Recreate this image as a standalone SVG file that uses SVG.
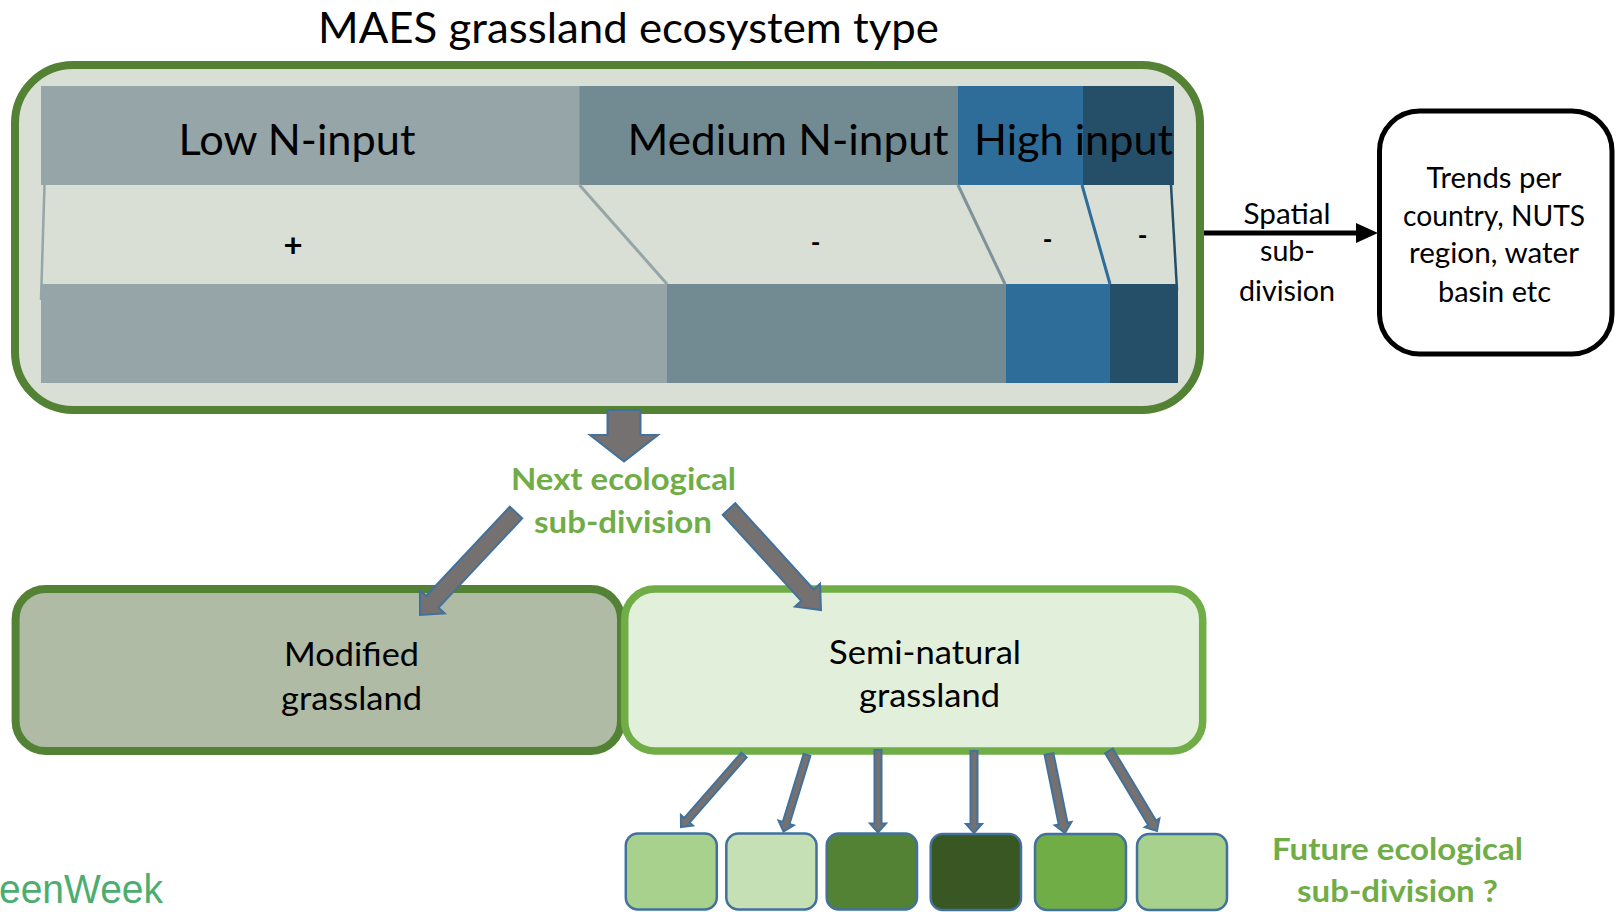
<svg xmlns="http://www.w3.org/2000/svg" width="1623" height="912" viewBox="0 0 1623 912">
<style>
text{font-family:Lato,"Open Sans","Liberation Sans",sans-serif;fill:#000}
.lbl{font-size:43px}
.mid{text-anchor:middle}
.sm{font-size:28px}
.box{font-size:32.5px}
.grn{font-weight:bold;fill:#70AD47;font-size:30px}
.pm{font-size:26px;font-weight:bold}
.ga{fill:#767171;stroke:#41719C;stroke-width:2;stroke-linejoin:miter}
.sq{stroke:#41719C;stroke-width:2.5}
</style>
<rect width="1623" height="912" fill="#FFFFFF"/>
<text id="title" x="318" y="43" font-size="43" textLength="621" lengthAdjust="spacingAndGlyphs">MAES grassland ecosystem type</text>

<g id="maes">
<rect x="15" y="65" width="1185" height="345" rx="58" fill="#D9DFD4" stroke="#548235" stroke-width="8"/>
<rect x="41" y="86" width="539" height="99" fill="#95A5A8"/>
<rect x="579.5" y="86" width="379" height="99" fill="#728A91"/>
<rect x="958" y="86" width="125.5" height="99" fill="#2E6D99"/>
<rect x="1083" y="86" width="91" height="99" fill="#254E69"/>
<line x1="44.5" y1="185" x2="41" y2="300" stroke="#95A5A8" stroke-width="2.5"/>
<line x1="579.5" y1="185" x2="667" y2="284" stroke="#95A5A8" stroke-width="3"/>
<line x1="958" y1="185" x2="1005" y2="284" stroke="#7E9399" stroke-width="3"/>
<line x1="1082" y1="185" x2="1110" y2="284" stroke="#2E6D99" stroke-width="3"/>
<line x1="1171" y1="185" x2="1177" y2="290" stroke="#254E69" stroke-width="2.5"/>
<rect x="41" y="284" width="626.5" height="99" fill="#95A5A8"/>
<rect x="667" y="284" width="339.5" height="99" fill="#728A91"/>
<rect x="1006" y="284" width="104.5" height="99" fill="#2E6D99"/>
<rect x="1110" y="284" width="68" height="99" fill="#254E69"/>
<text class="lbl" x="178.5" y="155" textLength="237" lengthAdjust="spacingAndGlyphs">Low N-input</text>
<text class="lbl" x="627.5" y="155" textLength="321" lengthAdjust="spacingAndGlyphs">Medium N-input</text>
<text class="lbl" x="974" y="155" textLength="199" lengthAdjust="spacingAndGlyphs">High input</text>
<text class="mid" x="293" y="257" style="font-size:33px;font-weight:bold">+</text>
<text class="pm mid" x="815.5" y="252">-</text>
<text class="pm mid" x="1047.5" y="249">-</text>
<text class="pm mid" x="1142.5" y="245">-</text>
</g>

<g id="trends">
<rect x="1379.5" y="111" width="232.5" height="243" rx="40" fill="#FFFFFF" stroke="#000" stroke-width="5"/>
<text class="sm mid" x="1494" y="187.5" textLength="135" lengthAdjust="spacingAndGlyphs">Trends per</text>
<text class="sm mid" x="1494" y="226" textLength="182" lengthAdjust="spacingAndGlyphs">country, NUTS</text>
<text class="sm mid" x="1494" y="263" textLength="170" lengthAdjust="spacingAndGlyphs">region, water</text>
<text class="sm mid" x="1494.5" y="301.5" textLength="113" lengthAdjust="spacingAndGlyphs">basin etc</text>
</g>

<g id="spatial-label">
<text class="sm mid" x="1287" y="224" textLength="87" lengthAdjust="spacingAndGlyphs">Spatial</text>
<text class="sm mid" x="1287.5" y="261" textLength="55" lengthAdjust="spacingAndGlyphs">sub-</text>
<text class="sm mid" x="1287" y="301" textLength="96" lengthAdjust="spacingAndGlyphs">division</text>
</g>

<g id="next-label">
<text class="grn mid" x="623.5" y="490" textLength="225" lengthAdjust="spacingAndGlyphs">Next ecological</text>
<text class="grn mid" x="623" y="533" textLength="178" lengthAdjust="spacingAndGlyphs">sub-division</text>
</g>

<g id="modified">
<rect x="15.6" y="589" width="605.4" height="162" rx="30" fill="#AFBBA5" stroke="#548235" stroke-width="8"/>
<text class="box mid" x="351.5" y="666" textLength="135" lengthAdjust="spacingAndGlyphs">Modified</text>
<text class="box mid" x="351.5" y="710" textLength="141" lengthAdjust="spacingAndGlyphs">grassland</text>
</g>

<g id="semi-natural">
<rect x="624.7" y="589" width="578" height="162" rx="30" fill="#E2EFDA" stroke="#70AD47" stroke-width="7.5"/>
<text class="box mid" x="925" y="664" textLength="192" lengthAdjust="spacingAndGlyphs">Semi-natural</text>
<text class="box mid" x="929.5" y="707" textLength="141" lengthAdjust="spacingAndGlyphs">grassland</text>
</g>

<g id="sub1"><rect class="sq" x="625.8" y="833.5" width="91" height="76" rx="12" fill="#A9D18E"/></g>
<g id="sub2"><rect class="sq" x="726.3" y="833.5" width="90.2" height="76" rx="12" fill="#C5E0B4"/></g>
<g id="sub3"><rect class="sq" x="826.7" y="833.5" width="90.3" height="76" rx="12" fill="#548235"/></g>
<g id="sub4"><rect class="sq" x="930.7" y="834" width="90.3" height="76" rx="12" fill="#385723"/></g>
<g id="sub5"><rect class="sq" x="1035" y="834" width="91" height="76" rx="12" fill="#70AD47"/></g>
<g id="sub6"><rect class="sq" x="1137" y="834" width="90" height="76" rx="12" fill="#A9D18E"/></g>

<g id="future-label">
<text class="grn mid" x="1397.5" y="860" textLength="251" lengthAdjust="spacingAndGlyphs">Future ecological</text>
<text class="grn mid" x="1397.5" y="901.5" textLength="201" lengthAdjust="spacingAndGlyphs">sub-division ?</text>
</g>

<text id="logo" x="-1" y="903" font-size="40" textLength="164" lengthAdjust="spacingAndGlyphs" style="font-family:'Liberation Sans',Arial,sans-serif;fill:#4BAE70">eenWeek</text>

<g id="connectors">
<line x1="1204" y1="233" x2="1358" y2="233" stroke="#000" stroke-width="5"/>
<polygon points="1356,223 1378,233 1356,243" fill="#000"/>
<polygon class="ga" transform="translate(624,410) rotate(90)" points="0,-16.5 25,-16.5 25,-34 51.5,0 25,34 25,16.5 0,16.5"/>
<polygon class="ga" transform="translate(516,512.5) rotate(133.13)" points="0,-8.5 122.4,-8.5 122.4,-17 140.4,0 122.4,17 122.4,8.5 0,8.5"/>
<polygon class="ga" transform="translate(729,509) rotate(47.67)" points="0,-8.5 116.6,-8.5 116.6,-17 136.6,0 116.6,17 116.6,8.5 0,8.5"/>
<polygon class="ga" transform="translate(744,755) rotate(131.19)" points="0,-3.5 86.7,-3.5 86.7,-8 95.7,0 86.7,8 86.7,3.5 0,3.5"/>
<polygon class="ga" transform="translate(807,755) rotate(107.08)" points="0,-3.5 71,-3.5 71,-8 80,0 71,8 71,3.5 0,3.5"/>
<polygon class="ga" transform="translate(878,750) rotate(90)" points="0,-3.5 73.5,-3.5 73.5,-8 82.5,0 73.5,8 73.5,3.5 0,3.5"/>
<polygon class="ga" transform="translate(974,751) rotate(90)" points="0,-3.5 73,-3.5 73,-8 82,0 73,8 73,3.5 0,3.5"/>
<polygon class="ga" transform="translate(1049,754) rotate(78.55)" points="0,-4.5 71.1,-4.5 71.1,-8.5 80.6,0 71.1,8.5 71.1,4.5 0,4.5"/>
<polygon class="ga" transform="translate(1109,751) rotate(59.04)" points="0,-4.5 83.8,-4.5 83.8,-8.5 93.3,0 83.8,8.5 83.8,4.5 0,4.5"/>
</g>
</svg>
